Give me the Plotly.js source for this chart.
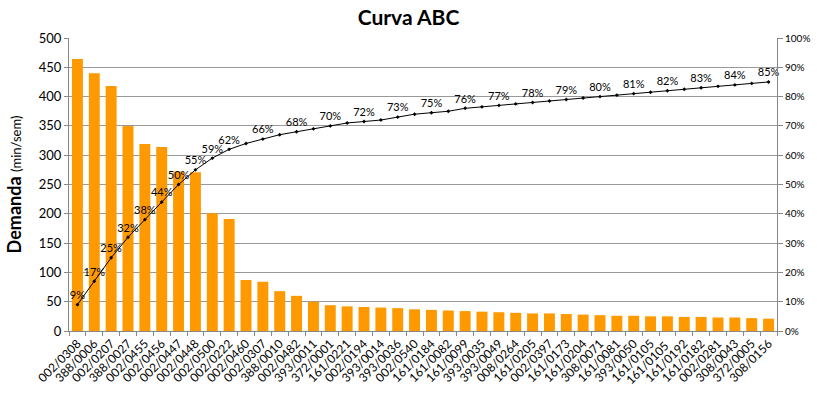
<!DOCTYPE html>
<html><head><meta charset="utf-8">
<script src="https://cdn.plot.ly/plotly-3.0.1.min.js"></script>
<style>body{margin:0;background:#fff}#c{width:817px;height:415px}</style>
</head><body><div id="c"></div>
<script>
const categories = ["002/0308","388/0006","002/0207","388/0027","002/0455","002/0456","002/0447","002/0448","002/0500","002/0222","002/0460","002/0307","388/0010","002/0482","393/0011","372/0001","161/0221","002/0194","393/0014","393/0036","002/0540","161/0184","161/0082","161/0099","393/0035","393/0049","008/0264","161/0205","002/0397","161/0173","161/0204","308/0071","161/0081","393/0050","161/0105","161/0105 ","161/0192","161/0182","002/0281","308/0043","372/0005","308/0156"];
const demanda = [464,440,418,350,319,314,272,271,201,191,87,84,68,60,50,44,42,41,40,39,37,36,35,34,33,32,31,30,30,29,28,27,26,26,25,25,24,24,23,23,22,21];
const acumulado = [0.09,0.17,0.25,0.32,0.38,0.44,0.50,0.55,0.59,0.62,0.64,0.655,0.67,0.68,0.69,0.70,0.71,0.715,0.72,0.73,0.74,0.745,0.75,0.76,0.765,0.77,0.775,0.78,0.785,0.79,0.795,0.80,0.805,0.81,0.815,0.82,0.825,0.83,0.835,0.84,0.845,0.85];
const rotulos = ["9%","17%","25%","32%","38%","44%","50%","55%","59%","62%","","66%","","68%","","70%","","72%","","73%","","75%","","76%","","77%","","78%","","79%","","80%","","81%","","82%","","83%","","84%","","85%"];

const font = "Lato, 'Open Sans', sans-serif";
const data = [
  {type:"bar", x:categories, y:demanda, marker:{color:"#FF9900"}, hoverinfo:"none"},
  {type:"scatter", mode:"lines+markers+text", x:categories, y:acumulado, yaxis:"y2",
   line:{color:"#000", width:1}, marker:{color:"#000", size:3, symbol:"diamond"},
   text:rotulos, textposition:"top center", textfont:{family:font, size:11, color:"#000"},
   cliponaxis:false, hoverinfo:"none"}
];
const layout = {
  width:817, height:415, showlegend:false, bargap:0.35,
  margin:{l:69, r:40, t:38, b:84},
  paper_bgcolor:"#fff", plot_bgcolor:"#fff",
  font:{family:font, color:"#000"},
  title:{text:"<b>Curva ABC</b>", x:0.5, xanchor:"center", y:0.975, yanchor:"top", font:{family:font, size:21, color:"#000"}},
  xaxis:{type:"category", range:[-0.5, categories.length-0.5], autorange:false, tickangle:-45, tickfont:{family:font, size:12}, ticks:"outside", ticklen:4, tickcolor:"#888",
         tickson:"boundaries", showline:true, linecolor:"#888", showgrid:false, automargin:false},
  yaxis:{range:[0,500], dtick:50, tickfont:{family:font, size:13}, ticks:"outside", ticklen:4, tickcolor:"#888",
         showline:true, linecolor:"#888", showgrid:true, gridcolor:"#999", zeroline:false,
         title:{text:"<b>Demanda</b> <span style='font-size:13px'>(min/sem)</span>", font:{family:font, size:18}, standoff:12}, automargin:false},
  yaxis2:{range:[0,1], dtick:0.1, tickformat:".0%", overlaying:"y", side:"right", tickfont:{family:font, size:10},
          ticks:"outside", ticklen:5, tickcolor:"#888", showline:true, linecolor:"#888", showgrid:false, zeroline:false, automargin:false}
};
Plotly.newPlot("c", data, layout, {staticPlot:true});
</script></body></html>
